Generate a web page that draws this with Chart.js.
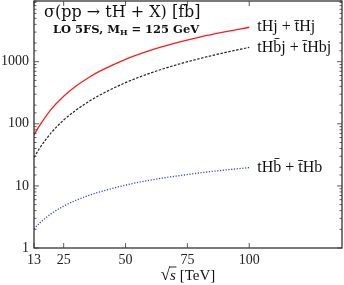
<!DOCTYPE html>
<html>
<head>
<meta charset="utf-8">
<script src="https://cdn.jsdelivr.net/npm/chart.js@4.4.1/dist/chart.umd.min.js"></script>
<style>
html,body{margin:0;padding:0;background:#fff;}
#wrap{width:344px;height:285px;}
</style>
</head>
<body>
<div id="wrap"><canvas id="c" width="344" height="285"></canvas></div>
<script>
// Data
const sqrtS = [13, 15, 20, 25, 30, 35, 40, 50, 60, 70, 80, 90, 100];
const tHj = [66, 90, 172, 278, 405, 552, 717, 1093, 1520, 1990, 2495, 3020, 3590];
const tHbj = [28.6, 38.9, 72, 115, 166, 227, 296, 460, 655, 877, 1125, 1400, 1700];
const tHb = [2.02, 2.46, 3.58, 4.72, 5.87, 7.0, 8.1, 10.3, 12.4, 14.3, 16.2, 18.0, 19.7];
const xTicks = [13, 25, 50, 75, 100];
const yLabels = [1, 10, 100, 1000];
const seriesNames = ['tHj + t\u0304Hj', 'tHb\u0304j + t\u0304Hbj', 'tHb\u0304 + t\u0304Hb'];
const titleText = '\u03C3(pp \u2192 tH + X) [fb]';
const subtitleText = 'LO 5FS, M';
const xTitle = '[TeV]';

const SERIF = '"Liberation Serif", "DejaVu Serif", serif';
const DSERIF = '"DejaVu Serif", "Liberation Serif", serif';

const decor = {
  id: 'decor',
  afterDatasetsDraw(chart) {
    const ctx = chart.ctx;
    const a = chart.chartArea;
    const xs = chart.scales.x, ys = chart.scales.y;
    ctx.save();
    // frame
    ctx.strokeStyle = '#222';
    ctx.lineWidth = 1.2;
    ctx.strokeRect(a.left, a.top, a.right - a.left, a.bottom - a.top);
    // inward ticks on y (log)
    ctx.lineWidth = 0.8;
    ctx.strokeStyle = '#333';
    ys.ticks.forEach(t => {
      const v = t.value;
      const p = ys.getPixelForValue(v);
      if (p < a.top || p > a.bottom) return;
      const major = Math.abs(Math.log10(v) - Math.round(Math.log10(v))) < 1e-9;
      const L = major ? 5 : 2.5;
      ctx.beginPath();
      ctx.moveTo(a.left, p); ctx.lineTo(a.left + L, p);
      ctx.moveTo(a.right, p); ctx.lineTo(a.right - L, p);
      ctx.stroke();
    });
    xs.ticks.forEach(t => {
      const p = xs.getPixelForValue(t.value);
      ctx.beginPath();
      ctx.moveTo(p, a.bottom); ctx.lineTo(p, a.bottom - 5);
      ctx.moveTo(p, a.top); ctx.lineTo(p, a.top + 5);
      ctx.stroke();
    });
    // title inside plot
    ctx.fillStyle = '#111';
    ctx.textBaseline = 'middle';
    ctx.textAlign = 'left';
    ctx.font = '16px ' + DSERIF;
    ctx.fillText(titleText, 44, 13);
    // subtitle
    ctx.font = 'bold 11.5px ' + DSERIF;
    let sx = 53, sy = 30;
    ctx.fillText(subtitleText, sx, sy);
    let w = ctx.measureText(subtitleText).width;
    ctx.font = 'bold 8px ' + DSERIF;
    ctx.fillText('H', sx + w, sy + 3);
    let w2 = ctx.measureText('H').width;
    ctx.font = 'bold 11.5px ' + DSERIF;
    ctx.fillText(' = 125 GeV', sx + w + w2, sy);
    // series labels at the ends of curves
    ctx.font = '16px ' + SERIF;
    const lx = xs.getPixelForValue(100) + 8;
    const ends = [tHj[tHj.length - 1], tHbj[tHbj.length - 1], tHb[tHb.length - 1]];
    ends.forEach((v, i) => {
      ctx.fillText(seriesNames[i], lx, ys.getPixelForValue(v));
    });
    // x-axis title: sqrt(s) [TeV]
    const cx = (a.left + a.right) / 2;
    const ty = 276;
    ctx.font = '17px ' + SERIF;
    const rad = '\u221A';
    const wr = ctx.measureText(rad).width;
    ctx.font = 'italic 15px ' + SERIF;
    const ws = ctx.measureText('s').width;
    ctx.font = '15px ' + SERIF;
    const wt = ctx.measureText(' ' + xTitle).width;
    const total = wr + ws + wt;
    let x0 = cx - total / 2;
    ctx.font = '17px ' + SERIF;
    ctx.fillText(rad, x0, ty);
    ctx.font = 'italic 15px ' + SERIF;
    ctx.fillText('s', x0 + wr, ty);
    ctx.lineWidth = 0.9;
    ctx.strokeStyle = '#111';
    ctx.beginPath();
    ctx.moveTo(x0 + wr - 1, ty - 9); ctx.lineTo(x0 + wr + ws + 0.5, ty - 9);
    ctx.stroke();
    ctx.font = '15px ' + SERIF;
    ctx.fillText(' ' + xTitle, x0 + wr + ws, ty);
    ctx.restore();
  }
};

const pts = (arr) => sqrtS.map((x, i) => ({x: x, y: arr[i]}));

new Chart(document.getElementById('c'), {
  type: 'line',
  data: {
    datasets: [
      {label: seriesNames[0], data: pts(tHj), borderColor: '#ff1a1a', borderWidth: 1.3, pointRadius: 0, fill: false, cubicInterpolationMode: 'monotone'},
      {label: seriesNames[1], data: pts(tHbj), borderColor: '#222', borderWidth: 1.2, borderDash: [2.5, 1.5], pointRadius: 0, fill: false, cubicInterpolationMode: 'monotone'},
      {label: seriesNames[2], data: pts(tHb), borderColor: '#3a3aff', borderWidth: 1.3, borderDash: [1.2, 1.6], pointRadius: 0, fill: false, cubicInterpolationMode: 'monotone'}
    ]
  },
  plugins: [decor],
  options: {
    responsive: false,
    animation: false,
    devicePixelRatio: 1,
    layout: {padding: {top: 1, right: 2, left: 0, bottom: 0}},
    plugins: {legend: {display: false}, tooltip: {enabled: false}},
    scales: {
      x: {
        type: 'linear', min: 13, max: 137.5,
        afterBuildTicks: (s) => { s.ticks = xTicks.map(v => ({value: v})); },
        afterFit: (s) => { s.height = 37; s.paddingLeft = 0; s.paddingRight = 0; },
        grid: {display: false, drawTicks: false},
        border: {display: false},
        ticks: {color: '#222', font: {family: SERIF, size: 14}, padding: 4, maxRotation: 0, autoSkip: false,
          callback: (v) => String(v)}
      },
      y: {
        type: 'logarithmic', min: 1, max: 9500,
        afterFit: (s) => { s.width = 34; s.paddingTop = 0; s.paddingBottom = 0; },
        grid: {display: false, drawTicks: false},
        border: {display: false},
        ticks: {color: '#222', font: {family: SERIF, size: 14}, padding: 5, autoSkip: false,
          callback: (v) => yLabels.includes(v) ? String(v) : ''}
      }
    }
  }
});
</script>
</body>
</html>
